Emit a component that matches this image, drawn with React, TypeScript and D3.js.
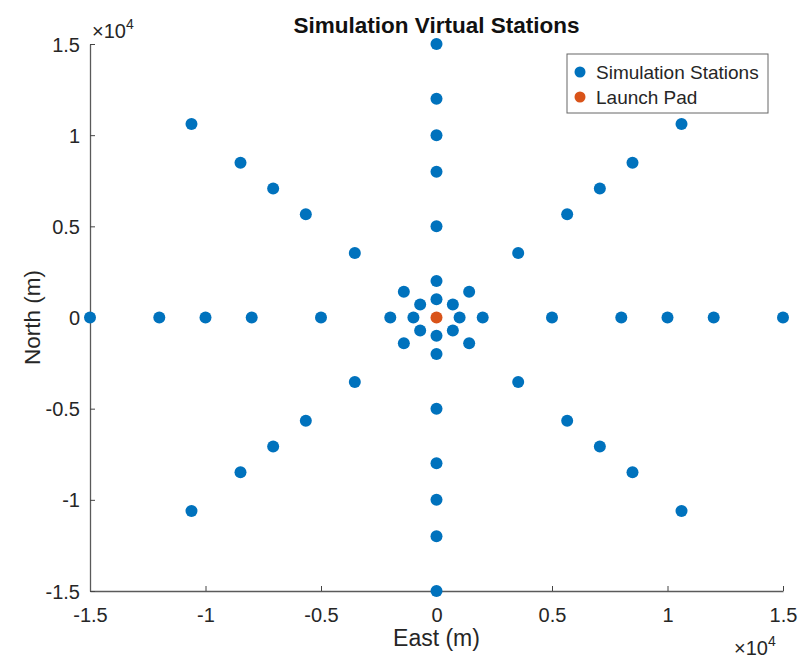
import React, { useEffect, useRef } from "react";
import * as d3 from "d3";

// station positions (East, North) in metres
const stationsEast = [
  1000, 2000, 5000, 8000, 10000, 12000, 15000,
  707, 1414, 3536, 5657, 7071, 8485, 10607,
  0, 0, 0, 0, 0, 0, 0,
  -707, -1414, -3536, -5657, -7071, -8485, -10607,
  -1000, -2000, -5000, -8000, -10000, -12000, -15000,
  -707, -1414, -3536, -5657, -7071, -8485, -10607,
  0, 0, 0, 0, 0, 0, 0,
  707, 1414, 3536, 5657, 7071, 8485, 10607,
];
const stationsNorth = [
  0, 0, 0, 0, 0, 0, 0,
  707, 1414, 3536, 5657, 7071, 8485, 10607,
  1000, 2000, 5000, 8000, 10000, 12000, 15000,
  707, 1414, 3536, 5657, 7071, 8485, 10607,
  0, 0, 0, 0, 0, 0, 0,
  -707, -1414, -3536, -5657, -7071, -8485, -10607,
  -1000, -2000, -5000, -8000, -10000, -12000, -15000,
  -707, -1414, -3536, -5657, -7071, -8485, -10607,
];
const padEast = [0];
const padNorth = [0];
const tickValues = [-15000, -10000, -5000, 0, 5000, 10000, 15000];
const tickLabels = ["-1.5", "-1", "-0.5", "0", "0.5", "1", "1.5"];
const legendLabels = ["Simulation Stations", "Launch Pad"];

const BLUE = "#0072BD";
const ORANGE = "#D95319";
const FONT = "'Liberation Sans', Arial, Helvetica, sans-serif";

export default function App() {
  const ref = useRef<SVGSVGElement>(null);

  useEffect(() => {
    const width = 803;
    const height = 661;
    const margin = { left: 90, right: 20, top: 44, bottom: 70 };

    const svg = d3.select(ref.current);
    svg.selectAll("*").remove();
    svg.attr("width", width).attr("height", height).style("font-family", FONT);

    svg.append("rect").attr("width", width).attr("height", height).attr("fill", "white");

    const x = d3.scaleLinear().domain([-15000, 15000]).range([margin.left, width - margin.right]);
    const y = d3.scaleLinear().domain([-15000, 15000]).range([height - margin.bottom, margin.top]);

    // axes with inward ticks
    const xAxis = svg.append("g")
      .attr("transform", `translate(0,${y(-15000)})`)
      .call(d3.axisBottom(x).tickValues(tickValues).tickSizeInner(-5).tickSizeOuter(0)
        .tickFormat((d, i) => tickLabels[i]));
    const yAxis = svg.append("g")
      .attr("transform", `translate(${x(-15000)},0)`)
      .call(d3.axisLeft(y).tickValues(tickValues).tickSizeInner(-5).tickSizeOuter(0)
        .tickFormat((d, i) => tickLabels[i]));

    [xAxis, yAxis].forEach((g) => {
      g.select(".domain").attr("stroke", "#5a5a5a").attr("stroke-width", 1.3);
      g.selectAll(".tick line").attr("stroke", "#444");
      g.selectAll(".tick text").attr("fill", "#262626").style("font-size", "20px").style("font-family", FONT);
    });
    xAxis.selectAll(".tick text").attr("y", 31).attr("dy", 0);
    yAxis.selectAll(".tick text").attr("x", -10).attr("dy", "0.35em");

    // stations
    svg.append("g")
      .selectAll("circle")
      .data(stationsEast.map((e, i) => [e, stationsNorth[i]]))
      .enter()
      .append("circle")
      .attr("cx", (d) => x(d[0]))
      .attr("cy", (d) => y(d[1]))
      .attr("r", 6)
      .attr("fill", BLUE);

    svg.append("g")
      .selectAll("circle")
      .data(padEast.map((e, i) => [e, padNorth[i]]))
      .enter()
      .append("circle")
      .attr("cx", (d) => x(d[0]))
      .attr("cy", (d) => y(d[1]))
      .attr("r", 6)
      .attr("fill", ORANGE);

    // title and labels
    svg.append("text")
      .attr("x", x(0)).attr("y", 33)
      .attr("text-anchor", "middle")
      .style("font-size", "22.5px").style("font-weight", "bold")
      .attr("fill", "#111")
      .text("Simulation Virtual Stations");

    svg.append("text")
      .attr("x", x(0)).attr("y", 646)
      .attr("text-anchor", "middle")
      .style("font-size", "23px")
      .attr("fill", "#262626")
      .text("East (m)");

    svg.append("text")
      .attr("transform", `translate(40,${y(0)}) rotate(-90)`)
      .attr("text-anchor", "middle")
      .style("font-size", "22.5px")
      .attr("fill", "#262626")
      .text("North (m)");

    // exponent labels
    const expo = (px: number, py: number) => {
      const t = svg.append("text").attr("x", px).attr("y", py)
        .attr("fill", "#262626").style("font-size", "20px");
      t.append("tspan").text("\u00d710");
      t.append("tspan").attr("dy", -9).style("font-size", "14px").text("4");
    };
    expo(92, 38);
    expo(734, 655);

    // legend
    const lg = svg.append("g").attr("transform", "translate(567,54)");
    lg.append("rect").attr("width", 201).attr("height", 59)
      .attr("fill", "white").attr("stroke", "#666").attr("stroke-width", 1);
    legendLabels.forEach((label, i) => {
      const cy = 18 + i * 25;
      lg.append("circle").attr("cx", 13).attr("cy", cy).attr("r", 5.5)
        .attr("fill", i === 0 ? BLUE : ORANGE);
      lg.append("text").attr("x", 29).attr("y", cy).attr("dy", "0.35em")
        .style("font-size", "19px").attr("fill", "#262626").text(label);
    });
  }, []);

  return <svg ref={ref} style={{ position: "absolute", left: 0, top: 0, display: "block" }}></svg>;
}
